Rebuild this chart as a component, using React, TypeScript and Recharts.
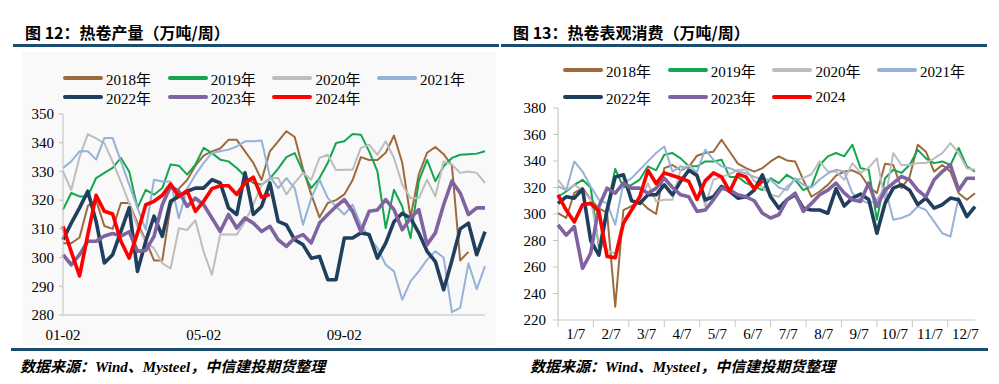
import { LineChart, Line, XAxis, YAxis, Legend, ReferenceLine } from 'recharts';

// week index 0..51 (one point per week)
const WEEKS = Array.from({ length: 52 }, (_, i) => i);

// 图12 热卷产量（万吨/周）
const PROD_2018 = [305, 305, 307, 318, 320, 311, 310, 319, 319, 312, 306, 299, 299, 318, 324, 327, 332, 335.5, 337, 338, 341, 341, 337, 333, 327, 337, 340.5, 344, 342, 331, 322, 314, 319, 320, 322, 327, 335, 334, 334, 336.5, 342.5, 333, 314, 329, 336.5, 338.5, 336, 332, 299, 302];
const PROD_2019 = [316.7, 322.5, 321.3, 321.3, 327.7, 329.5, 331.2, 334.7, 330, 317.3, 323.6, 321.9, 324.2, 332.4, 332, 328.9, 332.4, 338.2, 336.4, 334.1, 333.5, 331.2, 328.3, 326, 325.4, 327.5, 331, 335, 336.4, 330, 324.2, 327.7, 333, 339.9, 340.5, 343, 342.8, 337, 330, 310.3, 323.6, 317.8, 306.8, 326.6, 334, 326.6, 331.8, 334.7, 335.8, 336, 336.2, 337];
const PROD_2020 = [330, 323.5, 335, 343, 341.5, 339.8, 333.4, 326.4, 318.9, 310.8, 305.5, 303.2, 298, 296.2, 310.2, 309.6, 313, 302, 294, 308, 308, 308, 312.6, 318.4, 325.4, 327.7, 327.7, 322, 326, 329.5, 327.1, 334.7, 335.8, 330.5, 330.6, 330.6, 338.2, 339.3, 335.8, 340.5, 334.7, 325.4, 320.7, 320.7, 327.1, 321.3, 333.5, 332.4, 329.5, 330, 329.5, 326];
const PROD_2021 = [331.2, 333.5, 337, 337, 334.1, 341.6, 341.6, 333.5, 325.4, 317.3, 309.7, 327.1, 326.5, 326.5, 313.7, 324, 328.8, 333, 336.4, 337, 337.6, 338.7, 340.5, 340.5, 340.8, 328.3, 324.2, 327.7, 324.2, 311.4, 320.7, 327.1, 320.7, 317.8, 315, 318.4, 311.4, 307, 303.3, 297.5, 295.2, 285.3, 291.7, 295.2, 299.3, 302.2, 300, 281, 282.5, 298, 289, 297];
const PROD_2022 = [306.2, 312, 317.3, 323.1, 312.6, 298.1, 301, 309.1, 317.3, 295.2, 305.7, 314.4, 307.4, 319.6, 321.3, 323.1, 324.2, 324.2, 327.1, 326, 317.3, 315, 329.5, 315, 317.8, 326, 312.6, 311.4, 306.2, 304.5, 299.8, 300.4, 292.3, 292.3, 306.8, 306.8, 308.6, 308, 299.8, 305, 312.5, 315.4, 313.7, 308.6, 302.2, 298.6, 288.8, 299, 310, 312, 301, 309];
const PROD_2023 = [301, 297.5, 301, 305.7, 305.7, 307.5, 308.4, 307.5, 309, 302.2, 302.5, 307.4, 318.4, 324.8, 323.1, 317.8, 320.7, 318.4, 313.8, 309.1, 315, 310.3, 313.8, 312, 309.1, 310.9, 306.2, 303.9, 306.8, 308, 305.1, 312, 315, 317.8, 320.2, 316.1, 309.1, 316.1, 316.6, 320.2, 316.7, 309.7, 313.8, 316.7, 304.5, 308.6, 318.4, 326.6, 322.5, 315, 317.3, 317.3];
const PROD_2024 = [310.9, 302, 293.6, 308, 321.7, 316.1, 315.2, 305.7, 299.8, 308.5, 318.4, 319.6, 321.7, 325.6, 321.3, 323.3, 316.1, 319.6, 324, 325, 325, 322, 326, 328, 321, 322];

// 图13 热卷表观消费（万吨/周）
const CONS_2018 = [300.6, 297, 316, 319.5, 311, 304, 301, 230, 303, 306, 310, 304, 300, 334.6, 337, 333, 335.6, 344, 346, 347, 356, 347, 338, 334.6, 332, 334.6, 339.7, 343.5, 340.4, 339.7, 325.8, 313, 317, 322, 329, 332, 333, 330, 320.8, 315.7, 338, 337, 319.5, 328, 352.3, 347, 332, 337, 332, 315.7, 310.7, 315.7];
const CONS_2019 = [313, 317, 322, 325.8, 320, 275, 305, 334, 320, 322, 326, 336, 333, 344.7, 346, 342, 336, 336, 339.7, 339.7, 341, 328, 328, 323.3, 320.8, 318, 327, 323.3, 329.6, 325.8, 318, 320.8, 337, 343.5, 346, 343.5, 352.3, 334.6, 333.4, 295.6, 327, 333.4, 331, 337, 348.4, 342, 338.4, 339.7, 337, 349.8, 336, 332];
const CONS_2020 = [325.8, 318, 322, 318, 310.7, 278, 273, 270, 295.6, 303, 310.7, 323, 309.5, 310.7, 310.7, 333.4, 337, 331, 306, 325.8, 328, 330, 333.4, 333.4, 325, 320, 314.5, 313, 320.8, 325.8, 327, 330, 339.7, 332, 332, 325.8, 338.4, 331, 335, 342, 310, 346, 337, 337, 338.4, 338.4, 342, 346, 353.5, 346, 334.6, 333.4];
const CONS_2021 = [320.8, 318, 339.7, 332, 320.8, 310.7, 308, 292, 323.3, 327, 333.4, 339.7, 346, 351, 332, 336, 334, 332, 348.5, 341, 336, 334.6, 332, 330.8, 328, 326, 326, 320, 318, 327, 322, 320, 326, 330.6, 333.4, 332, 315.7, 310.7, 308, 310.7, 320, 295.6, 297, 299.4, 305.6, 303, 294.3, 285.5, 283, 313];
const CONS_2022 = [308, 313, 312, 318.8, 280, 269, 303, 328, 329.6, 310, 308, 314.5, 314.5, 322, 314.5, 324.6, 333, 329, 310.7, 313, 320.8, 317, 312, 313, 318, 329.6, 313, 304.4, 310.7, 314.5, 304.4, 303, 303, 300.6, 319, 306, 312, 315, 311, 285.5, 308, 319.5, 322, 318, 307, 312, 304.4, 307, 312, 310.7, 298, 305.6];
const CONS_2023 = [291.8, 284, 290.5, 259, 270.4, 305.7, 319.5, 315.7, 323.3, 319.5, 319.5, 315.7, 319.5, 327, 320, 314.5, 313, 302, 303, 310.7, 319.5, 318, 314.5, 313, 310, 300.6, 297, 299.4, 310.7, 315.7, 302, 308, 314.5, 318, 323.3, 316, 310.7, 309.4, 323.3, 305.7, 318, 323.3, 328.3, 325.8, 318, 313, 325.8, 332, 337, 318, 327, 327];
const CONS_2024 = [314.5, 303, 294, 307, 308, 302, 268, 267, 293, 303, 313, 333, 323, 331, 329, 327, 324.6, 311, 325, 331, 328, 317, 330, 328, 319, 325];

const PROD_TICK_WEEKS = [0, 17, 34];
const PROD_TICK_LABELS = ['01-02', '05-02', '09-02'];
const PROD_Y_TICKS = [280, 290, 300, 310, 320, 330, 340, 350];

const MONTH_LABELS = ['1/7', '2/7', '3/7', '4/7', '5/7', '6/7', '7/7', '8/7', '9/7', '10/7', '11/7', '12/7'];
const CONS_Y_TICKS = [220, 240, 260, 280, 300, 320, 340, 360, 380];

const YEARS = ['2018', '2019', '2020', '2021', '2022', '2023', '2024'];
const COLORS: Record<string, string> = {
  '2018': '#9c6a3c',
  '2019': '#14a64e',
  '2020': '#bdbdbd',
  '2021': '#95b3d7',
  '2022': '#203f5f',
  '2023': '#8064a2',
  '2024': '#ff0000',
};
const WIDTHS: Record<string, number> = {
  '2018': 2, '2019': 2, '2020': 2, '2021': 2, '2022': 3.6, '2023': 3.6, '2024': 3.6,
};

const SERIF = '"Liberation Serif", "Noto Sans CJK SC", serif';
const SANS = '"Noto Sans CJK SC", "Liberation Sans", sans-serif';
const AXIS_GRAY = '#bfbfbf';
const AXIS_LIGHT = '#c8c8c8';

function buildRows(cols: Record<string, number[]>) {
  return WEEKS.map((w) => {
    const row: Record<string, number | null> = { w };
    YEARS.forEach((y) => {
      const v = cols[y][w];
      row['y' + y] = v === undefined ? null : v;
    });
    return row;
  });
}

const prodRows = buildRows({
  '2018': PROD_2018, '2019': PROD_2019, '2020': PROD_2020, '2021': PROD_2021,
  '2022': PROD_2022, '2023': PROD_2023, '2024': PROD_2024,
});
const consRows = buildRows({
  '2018': CONS_2018, '2019': CONS_2019, '2020': CONS_2020, '2021': CONS_2021,
  '2022': CONS_2022, '2023': CONS_2023, '2024': CONS_2024,
});

function LegendGrid({ names, rowGap }: { names: string[]; rowGap: number }) {
  return (
    <div style={{ position: 'relative', width: 430, height: rowGap + 20 }}>
      {YEARS.map((y, i) => (
        <div
          key={y}
          style={{
            position: 'absolute',
            left: (i % 4) * 104.7,
            top: Math.floor(i / 4) * rowGap,
            height: 20,
            display: 'flex',
            alignItems: 'center',
            whiteSpace: 'nowrap',
          }}
        >
          <span
            style={{
              display: 'inline-block',
              width: 40,
              height: WIDTHS[y] > 3 ? 4.5 : 3.5,
              borderRadius: 2,
              background: COLORS[y],
            }}
          />
          <span style={{ marginLeft: 3, fontSize: 15, fontFamily: SERIF, color: '#000' }}>{names[i]}</span>
        </div>
      ))}
    </div>
  );
}

function seriesLines() {
  return YEARS.map((y) => (
    <Line
      key={y}
      type="linear"
      dataKey={'y' + y}
      name={y}
      stroke={COLORS[y]}
      strokeWidth={WIDTHS[y]}
      strokeLinejoin="round"
      dot={false}
      activeDot={false}
      isAnimationActive={false}
    />
  ));
}

const tickStyle = { fontSize: 15, fill: '#000', fontFamily: SERIF };

function ProductionChart() {
  return (
    <LineChart width={500} height={345} data={prodRows} margin={{ top: 114, right: 15, bottom: 6, left: 23 }}>
      <XAxis
        type="number"
        dataKey="w"
        domain={[0, 51]}
        ticks={PROD_TICK_WEEKS}
        interval={0}
        tickFormatter={(v) => PROD_TICK_LABELS[PROD_TICK_WEEKS.indexOf(v)] ?? ''}
        axisLine={{ stroke: AXIS_GRAY }}
        tickLine={false}
        tickMargin={8}
        tick={tickStyle}
        height={24}
      />
      <YAxis
        domain={[280, 350]}
        ticks={PROD_Y_TICKS}
        interval={0}
        axisLine={{ stroke: AXIS_GRAY }}
        tickLine={{ stroke: AXIS_GRAY }}
        tickSize={4}
        tickMargin={5}
        tick={tickStyle}
        width={40}
      />
      <Legend
        layout="horizontal"
        verticalAlign="middle"
        align="center"
        wrapperStyle={{ left: 63, top: 68, width: 430 }}
        content={() => <LegendGrid names={YEARS.map((y) => y + '年')} rowGap={19} />}
      />
      {seriesLines()}
    </LineChart>
  );
}

const monthEdges = MONTH_LABELS.map((_, k) => (k * 52) / 12);

// edge tick mark, with the month label midway to the next edge
function MonthTick(props: any) {
  const { x, y, index } = props;
  const half = ((417 / 51) * (52 / 12)) / 2;
  return (
    <g>
      <rect x={x - 0.5} y={y - 8} width={1} height={7} fill={AXIS_LIGHT} />
      <text x={x + half} y={y + 11} textAnchor="middle" fontSize={15} fontFamily={SERIF} fill="#000">
        {MONTH_LABELS[index] ?? ''}
      </text>
    </g>
  );
}

// value label with a short tick mark on the left of the axis
function ValueTick(props: any) {
  const { x, y, payload } = props;
  return (
    <g>
      <rect x={x + 7} y={y - 0.5} width={5} height={1} fill={AXIS_LIGHT} />
      <text x={x} y={y + 5} textAnchor="end" fontSize={15} fontFamily={SERIF} fill="#000">
        {payload.value}
      </text>
    </g>
  );
}

function ConsumptionChart() {
  return (
    <LineChart width={499} height={345} data={consRows} margin={{ top: 108, right: 24, bottom: 3, left: 18 }}>
      <XAxis
        type="number"
        dataKey="w"
        domain={[0, 51]}
        ticks={monthEdges}
        interval={0}
        axisLine={false}
        tickLine={false}
        tickSize={0}
        tickMargin={8}
        tick={<MonthTick />}
        height={22}
      />
      <YAxis
        domain={[220, 380]}
        ticks={CONS_Y_TICKS}
        interval={0}
        axisLine={false}
        tickLine={false}
        tickSize={5}
        tickMargin={7}
        tick={<ValueTick />}
        width={40}
      />
      <ReferenceLine x={0} stroke={AXIS_LIGHT} strokeWidth={1.2} ifOverflow="visible" />
      <ReferenceLine y={220} stroke={AXIS_LIGHT} strokeWidth={1.2} ifOverflow="visible" />
      <Legend
        layout="horizontal"
        verticalAlign="middle"
        align="center"
        wrapperStyle={{ left: 63, top: 60, width: 430 }}
        content={() => (
          <LegendGrid names={YEARS.map((y) => (y === '2024' ? y : y + '年'))} rowGap={27} />
        )}
      />
      {seriesLines()}
    </LineChart>
  );
}

const titleStyle: React.CSSProperties = {
  position: 'absolute',
  top: 21,
  fontSize: 16,
  fontWeight: 700,
  fontFamily: SANS,
  lineHeight: '22px',
  color: '#000',
  whiteSpace: 'nowrap',
};

const sourceStyle: React.CSSProperties = {
  position: 'absolute',
  top: 357,
  fontSize: 15,
  fontStyle: 'italic',
  fontWeight: 700,
  fontFamily: SERIF,
  lineHeight: '20px',
  color: '#000',
  whiteSpace: 'nowrap',
};

export default function App() {
  return (
    <div style={{ position: 'absolute', left: 0, top: 0, width: 999, height: 384, background: '#fff', overflow: 'hidden' }}>
      <div style={{ position: 'absolute', left: 22, top: 52, width: 474, height: 293, background: '#f9f9f9' }} />
      <div style={{ ...titleStyle, left: 25 }}>图 12：热卷产量（万吨/周）</div>
      <div style={{ ...titleStyle, left: 513 }}>图 13：热卷表观消费（万吨/周）</div>
      <div style={{ position: 'absolute', left: 13, top: 44, width: 486, height: 3, background: '#1b4e6e' }} />
      <div style={{ position: 'absolute', left: 501, top: 44, width: 486, height: 3, background: '#1b4e6e' }} />
      <div style={{ position: 'absolute', left: 0, top: 0 }}>
        <ProductionChart />
      </div>
      <div style={{ position: 'absolute', left: 500, top: 0 }}>
        <ConsumptionChart />
      </div>
      <div style={{ position: 'absolute', left: 11, top: 348, width: 977, height: 3, background: '#1b4e6e' }} />
      <div style={{ ...sourceStyle, left: 20 }}>数据来源：Wind、Mysteel，中信建投期货整理</div>
      <div style={{ ...sourceStyle, left: 530 }}>数据来源：Wind、Mysteel，中信建投期货整理</div>
    </div>
  );
}
